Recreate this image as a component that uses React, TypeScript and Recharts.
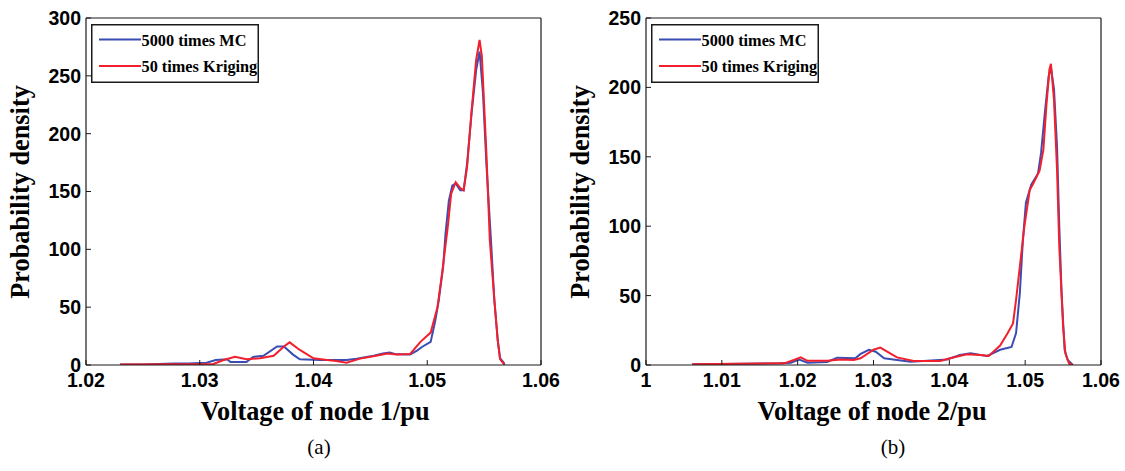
import React from 'react';
import { LineChart, Line, XAxis, YAxis, Legend } from 'recharts';

// ---------- data (x = voltage/pu, y = probability density) ----------
const node1MC: [number, number][] = [
  [1.023, 0.5], [1.025, 0.5], [1.0277, 1.4], [1.029, 1.2], [1.0306, 2], [1.0314, 4.3], [1.0324, 5],
  [1.0327, 2.6], [1.0341, 2.6], [1.0347, 7], [1.0356, 8], [1.0368, 16], [1.0374, 16], [1.0382, 9],
  [1.0388, 5], [1.0406, 4.3], [1.0429, 4.3], [1.0438, 5.5], [1.0453, 8], [1.0461, 10], [1.0467, 10.7],
  [1.0473, 9.2], [1.0485, 9], [1.0491, 12.4], [1.0496, 16], [1.0503, 20], [1.0507, 38], [1.051, 55],
  [1.0514, 85], [1.0516, 113], [1.0519, 142], [1.0522, 155], [1.0525, 157], [1.0529, 151], [1.0532, 151],
  [1.0535, 174], [1.0539, 218], [1.0543, 255], [1.0546, 271], [1.0549, 235], [1.0552, 174], [1.0556, 108],
  [1.0559, 56], [1.0562, 21], [1.0564, 6], [1.0568, 1],
];
const node1Kriging: [number, number][] = [
  [1.023, 0.5], [1.0312, 0.9], [1.0321, 4.3], [1.0331, 7.2], [1.0341, 5], [1.0353, 5.8], [1.0365, 8],
  [1.0374, 16], [1.0379, 19.6], [1.0388, 13], [1.04, 5.8], [1.0412, 4.3], [1.042, 3.5], [1.0429, 2],
  [1.0441, 5.5], [1.0455, 8], [1.0465, 10], [1.0473, 9], [1.0485, 9.5], [1.0494, 20], [1.0503, 28],
  [1.0509, 50], [1.0513, 79], [1.0518, 119], [1.0521, 148], [1.0525, 158], [1.0529, 153], [1.0532, 151],
  [1.0535, 171], [1.0539, 220], [1.0543, 264], [1.0546, 281], [1.0548, 267], [1.0552, 183], [1.0555, 108],
  [1.0559, 56], [1.0562, 21], [1.0564, 5], [1.0568, 0],
];
const node2MC: [number, number][] = [
  [1.0061, 0.5], [1.0099, 0.8], [1.0178, 1.2], [1.0191, 1.7], [1.0202, 4], [1.0213, 1.7], [1.0239, 2.2],
  [1.0252, 5.3], [1.0276, 4.8], [1.0283, 8], [1.0294, 11], [1.0303, 9.6], [1.0314, 4.8], [1.0331, 3.6],
  [1.0349, 2.4], [1.0371, 3], [1.0397, 4], [1.0414, 7.2], [1.0428, 8.4], [1.0441, 7.2], [1.045, 6.5],
  [1.0467, 11], [1.0482, 13], [1.0488, 23], [1.0493, 52], [1.0497, 90], [1.0501, 117], [1.0508, 130],
  [1.0517, 138], [1.0521, 153], [1.0526, 182], [1.0531, 208], [1.0534, 214], [1.0538, 199], [1.0542, 158],
  [1.0545, 100], [1.0548, 52], [1.0552, 11], [1.0556, 3.6], [1.0563, 0],
];
const node2Kriging: [number, number][] = [
  [1.0061, 0.5], [1.0182, 1.2], [1.0195, 3.6], [1.0204, 5.5], [1.0213, 3], [1.0239, 3], [1.0257, 4],
  [1.0274, 3.6], [1.0283, 4.8], [1.03, 11], [1.0309, 12.5], [1.0318, 9.6], [1.0331, 5.5], [1.0353, 2.9],
  [1.0388, 2.9], [1.0401, 4.8], [1.0423, 7.7], [1.0441, 7.2], [1.0452, 6.5], [1.0467, 14], [1.0477, 23],
  [1.0484, 30], [1.0488, 47], [1.0493, 71], [1.0499, 100], [1.0506, 126], [1.051, 130], [1.0519, 140],
  [1.0524, 155], [1.0528, 187], [1.0532, 213], [1.0534, 217], [1.0538, 191], [1.0542, 141], [1.0545, 85],
  [1.055, 28], [1.0553, 8.4], [1.0558, 1], [1.0563, 0],
];

const seriesNames = ['5000 times MC', '50 times Kriging'];
const xTicks1 = [1.02, 1.03, 1.04, 1.05, 1.06];
const yTicks1 = [0, 50, 100, 150, 200, 250, 300];
const xTicks2 = [1.0, 1.01, 1.02, 1.03, 1.04, 1.05, 1.06];
const yTicks2 = [0, 50, 100, 150, 200, 250];
const xTitles = ['Voltage of node 1/pu', 'Voltage of node 2/pu'];
const yTitle = 'Probability density';
const captions = ['(a)', '(b)'];

// ---------- styling ----------
const BLUE = '#3a4db4';
const RED = '#f2202c';
const AXIS = '#1a1a1a';
const SERIF = '"Liberation Serif", "Times New Roman", serif';
const SANS = '"Liberation Sans", Arial, sans-serif';
const tickFont = { fontFamily: SANS, fontWeight: 'bold' as const, fontSize: 19.5, fill: '#000' };

const toRows = (pts: [number, number][]) => pts.map(([x, y]) => ({ x, y }));
const fmt = (v: number) => String(Number(v.toFixed(2)));

const LegendBox = (props: any) => {
  const payload = [...(props.payload || [])].sort(
    (a: any, b: any) => seriesNames.indexOf(a.value) - seriesNames.indexOf(b.value)
  );
  return (
    <svg width={168} height={59} style={{ display: 'block' }}>
      <rect x={0.75} y={0.75} width={166.5} height={57.5} fill="#fff" stroke={AXIS} strokeWidth={1.5} />
      {payload.map((p: any, i: number) => (
        <g key={i}>
          <line x1={8} x2={50} y1={15.5 + i * 26.5} y2={15.5 + i * 26.5} stroke={p.color} strokeWidth={2} />
          <text x={50.5} y={21.5 + i * 26.5} fontFamily={SERIF} fontWeight="bold" fontSize={16.3} fill="#000">
            {p.value}
          </text>
        </g>
      ))}
    </svg>
  );
};

type PanelProps = {
  mc: [number, number][];
  kr: [number, number][];
  xDomain: [number, number];
  yDomain: [number, number];
  xTicks: number[];
  yTicks: number[];
};

const Panel = ({ mc, kr, xDomain, yDomain, xTicks, yTicks }: PanelProps) => (
  <LineChart width={560} height={471} margin={{ top: 17, right: 18, bottom: 76, left: 26 }}>
    <XAxis
      xAxisId="b"
      type="number"
      dataKey="x"
      domain={xDomain}
      ticks={xTicks}
      tickFormatter={fmt}
      height={30}
      tickSize={-5}
      tickMargin={13}
      tick={tickFont}
      axisLine={{ stroke: AXIS, strokeWidth: 1.2 }}
      tickLine={{ stroke: AXIS }}
      allowDataOverflow
      interval={0}
    />
    <XAxis
      xAxisId="t"
      orientation="top"
      type="number"
      dataKey="x"
      domain={xDomain}
      ticks={xTicks}
      height={1}
      tickSize={-5}
      tick={false}
      axisLine={{ stroke: AXIS, strokeWidth: 1.2 }}
      tickLine={{ stroke: AXIS }}
      allowDataOverflow
      interval={0}
    />
    <YAxis
      yAxisId="l"
      type="number"
      domain={yDomain}
      ticks={yTicks}
      width={60}
      tickSize={-5}
      tickMargin={10}
      tick={tickFont}
      axisLine={{ stroke: AXIS, strokeWidth: 1.2 }}
      tickLine={{ stroke: AXIS }}
      allowDataOverflow
      interval={0}
    />
    <YAxis
      yAxisId="r"
      orientation="right"
      type="number"
      domain={yDomain}
      ticks={yTicks}
      width={1}
      tickSize={-5}
      tick={false}
      axisLine={{ stroke: AXIS, strokeWidth: 1.2 }}
      tickLine={{ stroke: AXIS }}
      allowDataOverflow
      interval={0}
    />
    <Line
      xAxisId="b"
      yAxisId="l"
      data={toRows(mc)}
      dataKey="y"
      name={seriesNames[0]}
      type="linear"
      stroke={BLUE}
      strokeWidth={2}
      dot={false}
      isAnimationActive={false}
    />
    <Line
      xAxisId="b"
      yAxisId="l"
      data={toRows(kr)}
      dataKey="y"
      name={seriesNames[1]}
      type="linear"
      stroke={RED}
      strokeWidth={2}
      dot={false}
      isAnimationActive={false}
    />
    <Legend
      layout="vertical"
      align="center"
      verticalAlign="middle"
      content={<LegendBox />}
      wrapperStyle={{ left: 91, top: 24, width: 168, height: 59, margin: 0, padding: 0 }}
    />
  </LineChart>
);

export default function App() {
  return (
    <div style={{ position: 'absolute', left: 0, top: 0, width: 1125, height: 471, background: '#fff', overflow: 'hidden' }}>
      <div style={{ position: 'absolute', left: 0, top: 0 }}>
        <Panel mc={node1MC} kr={node1Kriging} xDomain={[1.02, 1.06]} yDomain={[0, 300]} xTicks={xTicks1} yTicks={yTicks1} />
      </div>
      <div style={{ position: 'absolute', left: 559.5, top: 0 }}>
        <Panel mc={node2MC} kr={node2Kriging} xDomain={[1.0, 1.06]} yDomain={[0, 250]} xTicks={xTicks2} yTicks={yTicks2} />
      </div>
      <svg width={1125} height={471} style={{ position: 'absolute', left: 0, top: 0, pointerEvents: 'none' }}>
        <text x={29} y={192} transform="rotate(-90 29 192)" textAnchor="middle" fontFamily={SERIF} fontWeight="bold" fontSize={26.3} fill="#000">
          {yTitle}
        </text>
        <text x={588.5} y={192} transform="rotate(-90 588.5 192)" textAnchor="middle" fontFamily={SERIF} fontWeight="bold" fontSize={26.3} fill="#000">
          {yTitle}
        </text>
        <text x={315} y={420} textAnchor="middle" fontFamily={SERIF} fontWeight="bold" fontSize={26.3} fill="#000">
          {xTitles[0]}
        </text>
        <text x={872} y={420} textAnchor="middle" fontFamily={SERIF} fontWeight="bold" fontSize={26.3} fill="#000">
          {xTitles[1]}
        </text>
        <text x={319} y={454} textAnchor="middle" fontFamily={SERIF} fontSize={21} fill="#000">
          {captions[0]}
        </text>
        <text x={893} y={454} textAnchor="middle" fontFamily={SERIF} fontSize={21} fill="#000">
          {captions[1]}
        </text>
      </svg>
    </div>
  );
}
